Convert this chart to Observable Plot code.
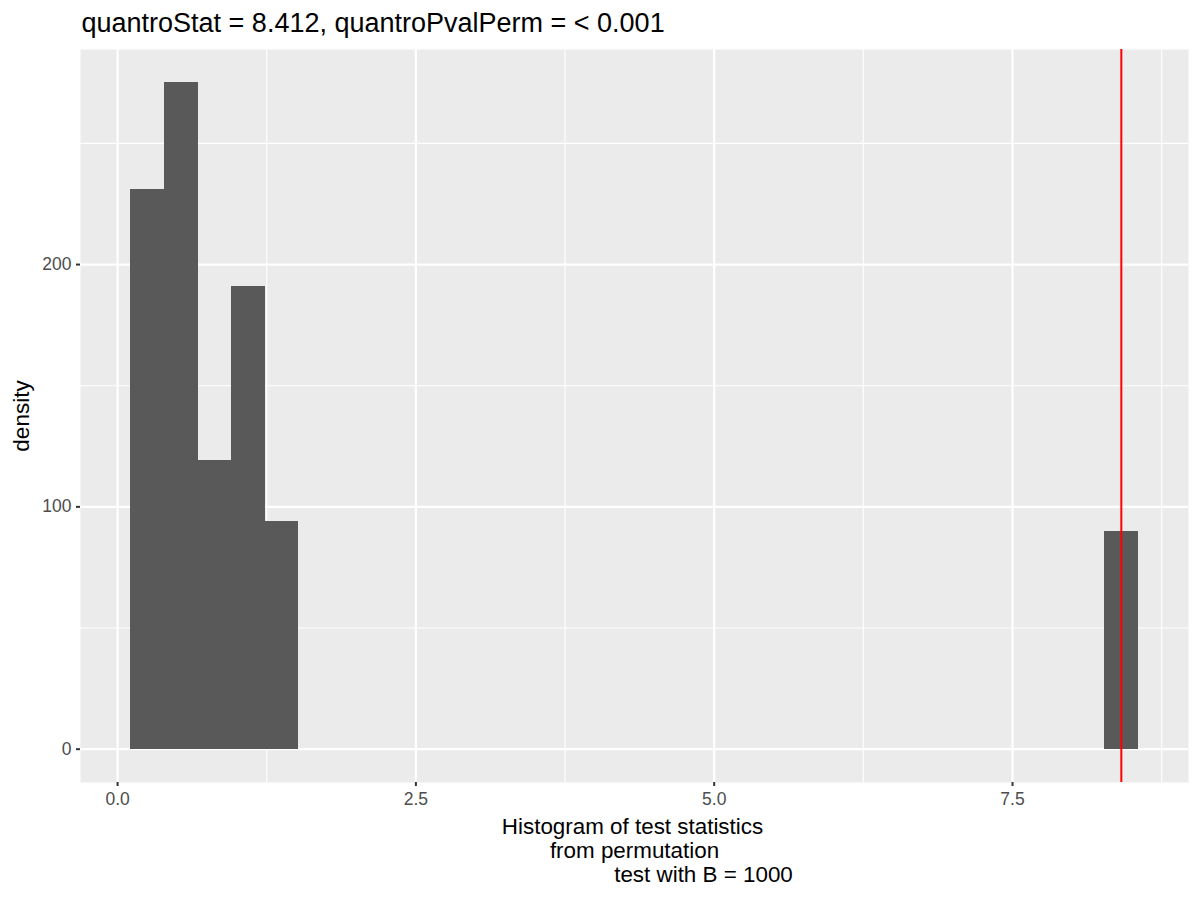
<!DOCTYPE html>
<html>
<head>
<meta charset="utf-8">
<script src="https://cdn.jsdelivr.net/npm/d3@7"></script>
<script src="https://cdn.jsdelivr.net/npm/@observablehq/plot@0.6"></script>
<style>
  html, body { margin: 0; padding: 0; background: #ffffff; }
  #chart { width: 1200px; height: 900px; }
</style>
</head>
<body>
<div id="chart"></div>
<script>
// Histogram bins
const binLo   = [0.111, 0.392, 0.674, 0.955, 1.237, 8.272];
const binHi   = [0.392, 0.674, 0.955, 1.237, 1.518, 8.553];
const density = [231, 275, 119, 191, 94, 90];

const quantroStat = 8.412;
const titleText = "quantroStat = 8.412, quantroPvalPerm = < 0.001";
const xLabelLines = ["Histogram of test statistics", "from permutation", "test with B = 1000"];
const yLabel = "density";

const xMajor = [0, 2.5, 5, 7.5];
const xMinor = [1.25, 3.75, 6.25, 8.75];
const yMajor = [0, 100, 200];
const yMinor = [50, 150, 250];

const bars = binLo.map((lo, i) => ({x1: lo, x2: binHi[i], y: density[i]}));

const font = "'Liberation Sans', Arial, Helvetica, sans-serif";

const chart = Plot.plot({
  width: 1200,
  height: 900,
  marginTop: 49,
  marginLeft: 80,
  marginRight: 12,
  marginBottom: 118,
  style: {fontFamily: font, background: "#ffffff", overflow: "visible"},
  x: {domain: [-0.311, 8.975]},
  y: {domain: [-13.75, 288.75]},
  marks: [
    Plot.frame({fill: "#EBEBEB", stroke: null}),
    Plot.ruleX(xMinor, {stroke: "#ffffff", strokeWidth: 1.1}),
    Plot.ruleY(yMinor, {stroke: "#ffffff", strokeWidth: 1.1}),
    Plot.ruleX(xMajor, {stroke: "#ffffff", strokeWidth: 2.2}),
    Plot.ruleY(yMajor, {stroke: "#ffffff", strokeWidth: 2.2}),
    Plot.rectY(bars, {x1: "x1", x2: "x2", y: "y", fill: "#595959", inset: 0, shapeRendering: "crispEdges"}),
    Plot.ruleX([quantroStat], {stroke: "#FF0000", strokeWidth: 2}),
    Plot.axisX(xMajor, {
      tickFormat: d3.format(".1f"), tickSize: 4, tickPadding: 6,
      fontSize: 17.5, stroke: "#333333", strokeWidth: 2, fill: "#4D4D4D", label: null
    }),
    Plot.axisY(yMajor, {
      tickSize: 4, tickPadding: 5,
      fontSize: 17.5, stroke: "#333333", strokeWidth: 2, fill: "#4D4D4D", label: null
    }),
    Plot.text([titleText], {
      text: d => d, frameAnchor: "top-left", textAnchor: "start", lineAnchor: "bottom",
      dx: 1, dy: -18, fontSize: 27, fill: "#000000"
    }),
    Plot.text([yLabel], {
      text: d => d, frameAnchor: "left", rotate: -90, textAnchor: "middle", lineAnchor: "middle",
      dx: -59, fontSize: 22.5, fill: "#000000"
    }),
    Plot.text([xLabelLines[0]], {
      text: d => d, frameAnchor: "bottom", textAnchor: "middle", lineAnchor: "bottom",
      dx: -2, dy: 51, fontSize: 22.4, fill: "#000000"
    }),
    Plot.text([xLabelLines[1]], {
      text: d => d, frameAnchor: "bottom", textAnchor: "middle", lineAnchor: "bottom",
      dx: 0, dy: 75, fontSize: 22.4, fill: "#000000"
    }),
    Plot.text([xLabelLines[2]], {
      text: d => d, frameAnchor: "bottom", textAnchor: "middle", lineAnchor: "bottom",
      dx: 69, dy: 99, fontSize: 22.4, fill: "#000000"
    })
  ]
});

document.getElementById("chart").appendChild(chart);
</script>
</body>
</html>
